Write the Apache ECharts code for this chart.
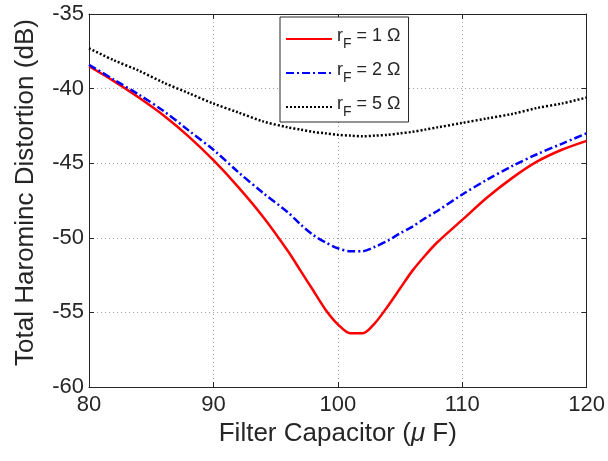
<!DOCTYPE html>
<html lang="en">
<head>
    <meta charset="UTF-8">
    <title>Total Harmonic Distortion vs Filter Capacitor</title>
    <script src="https://cdn.jsdelivr.net/npm/echarts@6/dist/echarts.min.js"></script>
</head>
<body style="margin:0;background:#fff;">
    <div id="main" style="width:608px;height:461px;"></div>
    <script>
        // capacitor values (uF)
        var capX = [80, 82, 84, 86, 88, 90, 92, 94, 96, 97, 98, 99, 100, 101, 102, 103, 104, 105, 106, 107, 108, 110, 112, 114, 116, 118, 120];
        // THD (dB) for each filter resistance
        var thdR1 = [-38.5, -39.5, -40.6, -41.8, -43.2, -44.8, -46.6, -48.6, -50.9, -52.2, -53.5, -54.8, -55.8, -56.4, -56.4, -55.7, -54.6, -53.4, -52.2, -51.2, -50.3, -48.8, -47.3, -46.0, -44.9, -44.1, -43.5];
        var thdR2 = [-38.4, -39.4, -40.4, -41.5, -42.8, -44.1, -45.6, -47.0, -48.3, -49.1, -49.8, -50.3, -50.7, -50.9, -50.9, -50.6, -50.2, -49.7, -49.25, -48.7, -48.2, -47.1, -46.1, -45.2, -44.4, -43.7, -43.0];
        var thdR5 = [-37.3, -38.1, -38.8, -39.6, -40.3, -41.0, -41.6, -42.2, -42.6, -42.75, -42.9, -43.0, -43.1, -43.15, -43.2, -43.15, -43.1, -43.0, -42.9, -42.75, -42.6, -42.3, -42.0, -41.7, -41.3, -41.0, -40.6];
        var seriesNames = ['r_F = 1 Ω', 'r_F = 2 Ω', 'r_F = 5 Ω'];
        var xTicks = [80, 90, 100, 110, 120];
        var yTicks = [-60, -55, -50, -45, -40, -35];

        function pairs(ys) {
            return capX.map(function (x, i) { return [x, ys[i]]; });
        }

        var chart = echarts.init(document.getElementById('main'));
        var font = 'Liberation Sans, Arial, sans-serif';
        var ink = '#262626';

        var boxAxis = {
            axisLine: { show: true, lineStyle: { color: ink, width: 1 } },
            axisTick: { show: true, inside: true, length: 5, lineStyle: { color: ink } },
            axisLabel: { show: false },
            splitLine: { show: false }
        };

        var option = {
            animation: false,
            backgroundColor: '#fff',
            grid: { left: 89, right: 19, top: 14, bottom: 74 },
            legend: {
                orient: 'vertical',
                left: 280,
                top: 17,
                itemWidth: 46,
                itemHeight: 14,
                itemGap: 10,
                padding: [10, 8, 3, 5],
                backgroundColor: '#fff',
                borderColor: ink,
                borderWidth: 1,
                borderRadius: 0,
                itemStyle: { opacity: 0 },
                data: seriesNames,
                formatter: function (name) {
                    var parts = name.split('_');
                    return '{r|' + parts[0] + '}{s|' + parts[1].charAt(0) + '}{r|' + parts[1].slice(1) + '}';
                },
                textStyle: {
                    color: ink,
                    fontFamily: font,
                    rich: {
                        r: { fontSize: 18, fontFamily: font, color: ink, verticalAlign: 'bottom', padding: [0, 0, 6, 0] },
                        s: { fontSize: 14, fontFamily: font, color: ink, verticalAlign: 'bottom', padding: [0, 0, 0, 0] }
                    }
                }
            },
            xAxis: [{
                type: 'value',
                min: 80, max: 120, interval: 10,
                name: '{t|Filter Capacitor (}{m|μ}{t| F)}',
                nameLocation: 'middle',
                nameGap: 33,
                nameTextStyle: {
                    rich: {
                        t: { fontSize: 26, fontFamily: font, color: ink },
                        m: { fontSize: 26, fontFamily: font, color: ink, fontStyle: 'italic' }
                    }
                },
                axisLine: { show: true, lineStyle: { color: ink, width: 1 } },
                axisTick: { show: true, inside: true, length: 5, lineStyle: { color: ink } },
                axisLabel: {
                    color: ink, fontSize: 22, fontFamily: font, margin: 7,
                    formatter: function (v) { return xTicks.indexOf(v) >= 0 ? String(v) : ''; }
                },
                splitLine: { show: true, lineStyle: { color: '#a0a0a0', type: [1, 3], width: 1 } }
            }, Object.assign({ type: 'value', min: 80, max: 120, interval: 10, position: 'top' }, boxAxis)],
            yAxis: [{
                type: 'value',
                min: -60, max: -35, interval: 5,
                name: 'Total Harominc Distortion (dB)',
                nameLocation: 'middle',
                nameGap: 50,
                nameTextStyle: { fontSize: 26, fontFamily: font, color: ink, padding: [0, 0, 0, 16] },
                axisLine: { show: true, lineStyle: { color: ink, width: 1 } },
                axisTick: { show: true, inside: true, length: 5, lineStyle: { color: ink } },
                axisLabel: {
                    color: ink, fontSize: 22, fontFamily: font, margin: 5,
                    formatter: function (v) { return yTicks.indexOf(v) >= 0 ? String(v) : ''; }
                },
                splitLine: { show: true, lineStyle: { color: '#a0a0a0', type: [1, 3], width: 1 } }
            }, Object.assign({ type: 'value', min: -60, max: -35, interval: 5, position: 'right' }, boxAxis)],
            series: [
                {
                    name: seriesNames[0], type: 'line', symbol: 'none', smooth: 0.3,
                    data: pairs(thdR1),
                    lineStyle: { color: '#ff0000', width: 2.5 },
                    itemStyle: { color: '#ff0000' }
                },
                {
                    name: seriesNames[1], type: 'line', symbol: 'none', smooth: 0.3,
                    data: pairs(thdR2),
                    lineStyle: { color: '#0000ff', width: 2.5, type: [8, 3, 2, 3] },
                    itemStyle: { color: '#0000ff' }
                },
                {
                    name: seriesNames[2], type: 'line', symbol: 'none', smooth: 0.3,
                    data: pairs(thdR5),
                    lineStyle: { color: '#000000', width: 2.5, type: [2, 2] },
                    itemStyle: { color: '#000000' }
                }
            ]
        };

        chart.setOption(option);
    </script>
</body>
</html>
